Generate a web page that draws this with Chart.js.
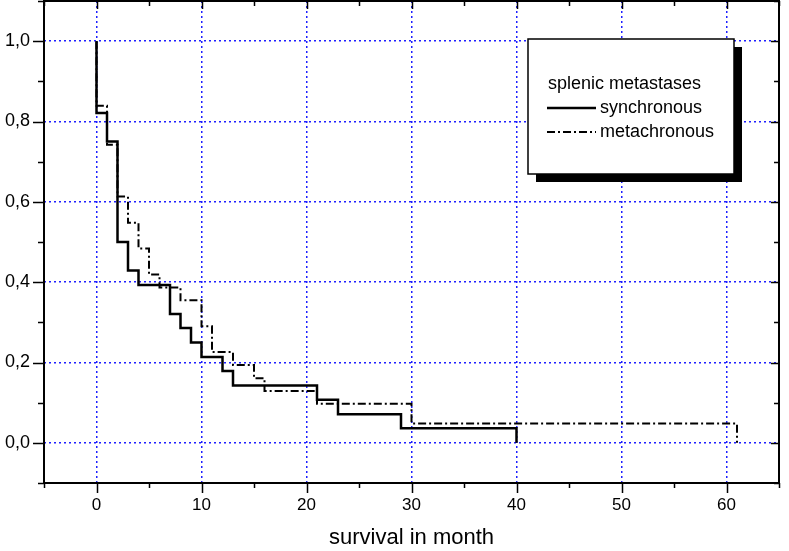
<!DOCTYPE html>
<html>
<head>
<meta charset="utf-8">
<script src="https://cdn.jsdelivr.net/npm/chart.js@4/dist/chart.umd.min.js"></script>
<style>
  html, body { margin:0; padding:0; background:#fff; }
  #wrap { width:789px; height:551px; }
</style>
</head>
<body>
<div id="wrap"><canvas id="km_chart" width="789" height="551"></canvas></div>
<script>
// survival curves (month, survival)
var syncTime = [0, 0, 1, 2, 3, 4, 7, 8, 9, 10, 12, 13, 21, 23, 29, 40];
var syncSurv = [1, 0.821, 0.75, 0.5, 0.429, 0.393, 0.321, 0.286, 0.25, 0.214, 0.179, 0.143, 0.107, 0.071, 0.036, 0];

var metaTime = [0, 0, 1, 2, 3, 4, 5, 6, 8, 10, 11, 13, 15, 16, 21, 30, 61];
var metaSurv = [1, 0.839, 0.742, 0.613, 0.548, 0.484, 0.419, 0.387, 0.355, 0.29, 0.226, 0.194, 0.161, 0.129, 0.097, 0.048, 0];

var seriesNames = ["synchronous", "metachronous"];
var legendTitle = "splenic metastases";
var xTitle = "survival in month";

var FONT = "'Liberation Sans', Arial, Helvetica, sans-serif";
var GRID = "#1f1fff";
var META_DASH = [8, 3, 2, 3];

function toPoints(t, s) {
    return t.map((x, i) => { return {x: x, y: s[i]}; });
}

function isMajorX(v) { return Math.round(v) % 10 === 0; }
function isMajorY(v) { return Math.round(v * 10) % 2 === 0; }

// frame, tick marks and the shadowed legend box
var framePlugin = {
    id: "frame",
    afterDraw: function(chart) {
        var c = chart.ctx;
        var a = chart.chartArea;
        var xs = chart.scales.x;
        var ys = chart.scales.y;
        c.save();
        c.strokeStyle = "#000";
        c.lineWidth = 1.5;
        c.beginPath();
        xs.ticks.forEach(t => {
            var px = Math.round(xs.getPixelForValue(t.value)) + 0.5;
            var maj = isMajorX(t.value);
            c.moveTo(px, a.bottom); c.lineTo(px, a.bottom + (maj ? 10 : 5));
            c.moveTo(px, a.top); c.lineTo(px, a.top + (maj ? 8 : 5));
        });
        ys.ticks.forEach(t => {
            var py = Math.round(ys.getPixelForValue(t.value)) + 0.5;
            var maj = isMajorY(t.value);
            c.moveTo(a.left, py); c.lineTo(a.left - (maj ? 11 : 6), py);
            c.moveTo(a.right, py); c.lineTo(a.right - (maj ? 8 : 5), py);
        });
        c.stroke();
        c.lineWidth = 2;
        c.strokeRect(a.left, a.top, a.right - a.left, a.bottom - a.top);

        // legend
        var bx = 528, by = 39, bw = 206, bh = 135;
        c.fillStyle = "#000";
        c.fillRect(bx + 8, by + 8, bw, bh);
        c.fillStyle = "#fff";
        c.fillRect(bx, by, bw, bh);
        c.lineWidth = 1.5;
        c.strokeRect(bx, by, bw, bh);

        c.fillStyle = "#000";
        c.font = "18px " + FONT;
        c.textBaseline = "middle";
        c.fillText(legendTitle, bx + 20, by + 45);
        c.fillText(seriesNames[0], bx + 72, by + 69);
        c.fillText(seriesNames[1], bx + 72, by + 93);

        c.lineWidth = 2.5;
        c.beginPath();
        c.moveTo(bx + 19, by + 69); c.lineTo(bx + 68, by + 69);
        c.stroke();
        c.lineWidth = 2;
        c.setLineDash(META_DASH);
        c.beginPath();
        c.moveTo(bx + 19, by + 93); c.lineTo(bx + 68, by + 93);
        c.stroke();
        c.restore();
    }
};

var ctx = document.getElementById("km_chart");
var chart = new Chart(ctx, {
    type: "line",
    data: {
        datasets: [{
            label: seriesNames[0],
            data: toPoints(syncTime, syncSurv),
            borderColor: "#000",
            borderWidth: 2.5,
            stepped: true,
            pointRadius: 0,
            fill: false
        }, {
            label: seriesNames[1],
            data: toPoints(metaTime, metaSurv),
            borderColor: "#000",
            borderWidth: 2,
            borderDash: META_DASH,
            stepped: true,
            pointRadius: 0,
            fill: false
        }]
    },
    options: {
        responsive: false,
        animation: false,
        events: [],
        layout: { padding: { top: 1, right: 10, left: 0, bottom: 0 } },
        plugins: {
            legend: { display: false },
            tooltip: { enabled: false }
        },
        scales: {
            x: {
                type: "linear",
                min: -5,
                max: 65,
                afterFit: s => { s.height = 68; s.paddingLeft = 0; s.paddingRight = 0; },
                ticks: {
                    stepSize: 5,
                    autoSkip: false,
                    maxRotation: 0,
                    padding: 12,
                    color: "#000",
                    font: { family: FONT, size: 17 },
                    callback: v => isMajorX(v) ? String(v) : ""
                },
                grid: {
                    drawTicks: false,
                    lineWidth: 1.5,
                    color: c => (c.tick && isMajorX(c.tick.value) && c.tick.value > -5) ? GRID : "rgba(0,0,0,0)"
                },
                border: { display: false, dash: [2, 3] },
                title: {
                    display: true,
                    text: xTitle,
                    color: "#000",
                    font: { family: FONT, size: 22 },
                    padding: { top: 4, bottom: 0 }
                }
            },
            y: {
                min: -0.1,
                max: 1.1,
                afterFit: s => { s.width = 44; s.paddingTop = 0; s.paddingBottom = 0; },
                ticks: {
                    stepSize: 0.1,
                    autoSkip: false,
                    padding: 14,
                    color: "#000",
                    font: { family: FONT, size: 18 },
                    callback: v => isMajorY(v) ? v.toFixed(1).replace(".", ",") : ""
                },
                grid: {
                    drawTicks: false,
                    lineWidth: 1.5,
                    color: c => (c.tick && isMajorY(c.tick.value) && c.tick.value > -0.05 && c.tick.value < 1.05) ? GRID : "rgba(0,0,0,0)"
                },
                border: { display: false, dash: [2, 3] }
            }
        }
    },
    plugins: [framePlugin]
});
</script>
</body>
</html>
